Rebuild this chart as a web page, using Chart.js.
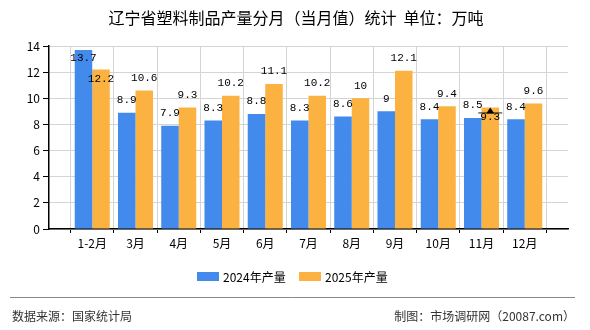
<!DOCTYPE html>
<html>
<head>
<meta charset="utf-8">
<script src="https://cdn.jsdelivr.net/npm/chart.js@4.4.1/dist/chart.umd.min.js"></script>
<style>
	html, body { margin: 0; padding: 0; background: #fff; }
	#wrap { width: 590px; height: 330px; position: relative; }
</style>
</head>
<body>
<div id="wrap"><canvas id="chart" width="590" height="330"></canvas></div>
<script>
	// chart data
	var categories = ['1-2月', '3月', '4月', '5月', '6月', '7月', '8月', '9月', '10月', '11月', '12月'];
	var values2024 = [13.7, 8.9, 7.9, 8.3, 8.8, 8.3, 8.6, 9, 8.4, 8.5, 8.4];
	var values2025 = [12.2, 10.6, 9.3, 10.2, 11.1, 10.2, 10, 12.1, 9.4, 9.3, 9.6];
	var seriesNames = ['2024年产量', '2025年产量'];
	var yTicks = [0, 2, 4, 6, 8, 10, 12, 14];
	var markCategory = '11月';

	var titleText = '辽宁省塑料制品产量分月（当月值）统计  单位：万吨';
	var sourceText = '数据来源：国家统计局';
	var makerText = '制图：市场调研网（20087.com）';

	var colors = ['#428bec', '#fbb241'];
	var cjkFont = '"Noto Sans CJK SC", "Liberation Sans", sans-serif';
	var numFont = '"Liberation Mono", "DejaVu Sans Mono", monospace';

	// empty slot on each side, like the original axis
	var labels = [''].concat(categories, ['']);
	function pad(arr) {
		return [null].concat(arr, [null]);
	}

	// value labels above bars, pushed inside when they collide
	var valueLabels = {
		id: 'valueLabels',
		afterDatasetsDraw: function(chart) {
			var ctx = chart.ctx;
			var area = chart.chartArea;
			var placed = [];
			ctx.save();
			ctx.font = '11px ' + numFont;
			ctx.fillStyle = '#000';
			ctx.textAlign = 'center';
			ctx.textBaseline = 'middle';
			for (var i = 0; i < labels.length; i++) {
				for (var d = 0; d < chart.data.datasets.length; d++) {
					var v = chart.data.datasets[d].data[i];
					if (v === null) continue;
					var bar = chart.getDatasetMeta(d).data[i];
					var txt = String(v);
					var w = ctx.measureText(txt).width;
					var y = bar.y - 12.5;
					if (y - 6 < area.top) {
						y = bar.y + 8.5;
					}
					var hit = placed.some(function(p) {
						return Math.abs(p.x - bar.x) < (p.w + w) / 2 + 1 && Math.abs(p.y - y) < 11;
					});
					if (hit) {
						y = bar.y + 9.5;
					}
					placed.push({ x: bar.x, y: y, w: w });
					ctx.fillText(txt, bar.x, y);
				}
			}

			// small marker on the latest month
			var mi = labels.indexOf(markCategory);
			var mb = chart.getDatasetMeta(1).data[mi];
			if (mb) {
				var my = mb.y + 5;
				ctx.strokeStyle = '#222';
				ctx.lineWidth = 1;
				ctx.beginPath();
				ctx.moveTo(mb.x - 12, my + 0.5);
				ctx.lineTo(mb.x + 12, my + 0.5);
				ctx.stroke();
				ctx.fillStyle = '#000';
				ctx.beginPath();
				ctx.moveTo(mb.x, my - 5);
				ctx.lineTo(mb.x - 4, my + 1);
				ctx.lineTo(mb.x + 4, my + 1);
				ctx.closePath();
				ctx.fill();
			}
			ctx.restore();
		}
	};

	// title, legend, footer
	var decorations = {
		id: 'decorations',
		afterDraw: function(chart) {
			var ctx = chart.ctx;
			ctx.save();
			ctx.fillStyle = '#000';
			ctx.textAlign = 'center';
			ctx.textBaseline = 'middle';
			ctx.font = '16px ' + cjkFont;
			ctx.fillText(titleText, 296, 18);

			// legend
			ctx.font = '12px ' + cjkFont;
			ctx.textAlign = 'left';
			var lx = [197, 299];
			for (var s = 0; s < seriesNames.length; s++) {
				ctx.fillStyle = colors[s];
				ctx.fillRect(lx[s], 272, 22, 9);
				ctx.fillStyle = '#000';
				ctx.fillText(seriesNames[s], lx[s] + 26, 277);
			}

			// separator + footer
			ctx.strokeStyle = '#888';
			ctx.lineWidth = 1;
			ctx.beginPath();
			ctx.moveTo(10, 297.5);
			ctx.lineTo(575, 297.5);
			ctx.stroke();

			ctx.fillStyle = '#333';
			ctx.font = '12px ' + cjkFont;
			ctx.textAlign = 'left';
			ctx.fillText(sourceText, 12, 316);
			ctx.textAlign = 'right';
			ctx.fillText(makerText, 575, 316);
			ctx.restore();
		}
	};

	new Chart(document.getElementById('chart'), {
		type: 'bar',
		data: {
			labels: labels,
			datasets: [
				{
					label: seriesNames[0],
					data: pad(values2024),
					backgroundColor: colors[0],
					categoryPercentage: 0.81,
					barPercentage: 1
				},
				{
					label: seriesNames[1],
					data: pad(values2025),
					backgroundColor: colors[1],
					categoryPercentage: 0.81,
					barPercentage: 1
				}
			]
		},
		options: {
			responsive: false,
			animation: false,
			layout: {
				padding: { left: 0, right: 22, top: 46, bottom: 0 }
			},
			plugins: {
				legend: { display: false },
				title: { display: false },
				tooltip: { enabled: false }
			},
			scales: {
				x: {
					offset: false,
					grid: {
						color: '#d4d4d4',
						tickColor: '#000',
						tickLength: 4
					},
					border: { color: '#000', width: 1.5 },
					ticks: {
						color: '#000',
						padding: 3,
						autoSkip: false,
						maxRotation: 0,
						font: { family: cjkFont, size: 12 }
					},
					afterFit: function(scale) {
						scale.height = 101;
					}
				},
				y: {
					min: yTicks[0],
					max: yTicks[yTicks.length - 1],
					afterBuildTicks: function(scale) {
						scale.ticks = yTicks.map(function(v) { return { value: v }; });
					},
					grid: {
						color: '#d4d4d4',
						tickColor: '#000',
						tickLength: 6
					},
					border: { color: '#000', width: 1.5 },
					ticks: {
						color: '#000',
						padding: 3,
						font: { family: cjkFont, size: 12 }
					},
					afterFit: function(scale) {
						scale.width = 49;
					}
				}
			}
		},
		plugins: [valueLabels, decorations]
	});
</script>
</body>
</html>
